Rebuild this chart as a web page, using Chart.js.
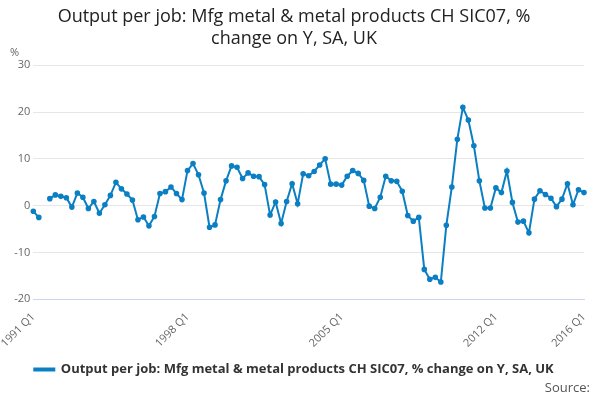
<!DOCTYPE html>
<html><head><meta charset="utf-8">
<script src="https://cdn.jsdelivr.net/npm/chart.js@4"></script>
<style>body{margin:0;background:#fff;font-family:"Open Sans",sans-serif}#w{position:relative;width:600px;height:400px}#src{position:absolute;right:10px;bottom:4px;font-size:13px;color:#555}</style>
</head><body><div id="w"><canvas id="c" width="600" height="400"></canvas><div id="src">Source:</div></div>
<script>
// Quarterly labels 1991 Q1 .. 2016 Q1
const quarters = [];
for (let y = 1991; y <= 2016; y++) for (let q = 1; q <= 4; q++) if (!(y === 2016 && q > 1)) quarters.push(y + ' Q' + q);
const shownTicks = ['1991 Q1', '1998 Q1', '2005 Q1', '2012 Q1', '2016 Q1'];
const seriesName = 'Output per job: Mfg metal & metal products CH SIC07, % change on Y, SA, UK';
const values = [
  -1.2, -2.5, null, 1.5, 2.3, 2.0, 1.7, -0.3, 2.7, 1.8, -0.6, 0.9,
  -1.6, 0.2, 2.2, 5.0, 3.6, 2.5, 1.2, -3.0, -2.4, -4.3, -2.3, 2.6,
  3.0, 4.0, 2.6, 1.3, 7.5, 9.0, 6.6, 2.7, -4.6, -4.1, 1.3, 5.3,
  8.5, 8.2, 5.8, 7.0, 6.3, 6.2, 4.5, -2.0, 0.8, -3.8, 0.9, 4.7,
  0.4, 6.8, 6.4, 7.3, 8.7, 10.0, 4.6, 4.6, 4.4, 6.3, 7.5, 6.9,
  5.4, -0.1, -0.6, 1.8, 6.3, 5.3, 5.2, 3.1, -2.1, -3.3, -2.5, -13.6,
  -15.7, -15.3, -16.3, -4.2, 4.0, 14.2, 21.0, 18.3, 12.8, 5.3, -0.5, -0.5,
  3.8, 2.8, 7.4, 0.7, -3.5, -3.3, -5.8, 1.4, 3.2, 2.4, 1.6, -0.2,
  1.4, 4.7, 0.2, 3.4, 2.8
];

new Chart(document.getElementById('c'), {
    type: 'line',
    data: {
        labels: quarters,
        datasets: [{
            label: seriesName,
            data: values,
            borderColor: '#0b7fc3',
            backgroundColor: '#0b7fc3',
            borderWidth: 2,
            pointRadius: 1.8,
            pointHoverRadius: 3,
            tension: 0,
            spanGaps: false
        }]
    },
    options: {
        responsive: false,
        animation: false,
        layout: { padding: { left: 4, right: 16, top: 0, bottom: 14 } },
        plugins: {
            title: {
                display: true,
                text: ['Output per job: Mfg metal & metal products CH SIC07, %', 'change on Y, SA, UK'],
                font: { size: 18, family: 'Open Sans', weight: 'normal' },
                color: '#222',
                padding: { top: 6, bottom: 16 }
            },
            legend: {
                position: 'bottom',
                labels: { font: { size: 13, family: 'Open Sans', weight: 'bold' }, color: '#333', boxWidth: 20, boxHeight: 2 }
            }
        },
        scales: {
            x: {
                grid: { display: false, drawTicks: true },
                border: { color: '#ccd6eb' },
                ticks: {
                    autoSkip: false, maxRotation: 45, minRotation: 45,
                    font: { size: 11, family: 'Open Sans' }, color: '#666',
                    callback: function (v) { const l = this.getLabelForValue(v); return shownTicks.includes(l) ? l : null; }
                }
            },
            y: {
                min: -20, max: 30,
                ticks: { stepSize: 10, font: { size: 11, family: 'Open Sans' }, color: '#666' },
                grid: { color: '#e6e6e6', drawTicks: false },
                border: { display: false },
                title: { display: false }
            }
        }
    },
    plugins: [{
        id: 'unit',
        afterDraw(chart) {
            const ctx = chart.ctx;
            ctx.save();
            ctx.font = '11px "Open Sans"';
            ctx.fillStyle = '#666';
            ctx.fillText('%', 10, chart.scales.y.top - 12);
            ctx.restore();
        }
    }]
});
</script></body></html>
